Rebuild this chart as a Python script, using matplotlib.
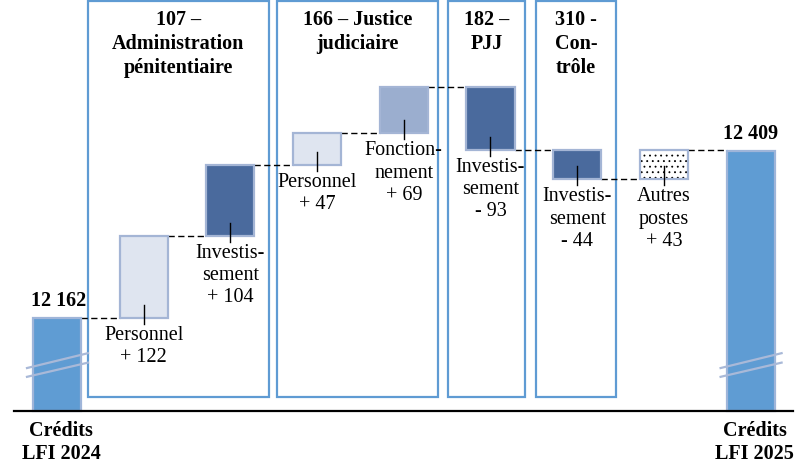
import matplotlib
matplotlib.use("Agg")
import matplotlib.pyplot as plt
from matplotlib.patches import Rectangle

# ---------------- data ----------------
start_label = "Crédits\nLFI 2024"
end_label = "Crédits\nLFI 2025"
start_value = 12162
end_value = 12409
step_names = ["Personnel", "Investis-\nsement", "Personnel", "Fonction-\nnement",
              "Investis-\nsement", "Investis-\nsement", "Autres\npostes"]
step_values = [122, 104, 47, 69, -93, -44, 43]
step_kinds = ["personnel", "invest", "personnel", "fonct", "invest", "invest", "autres"]
group_titles = ["107 –\nAdministration\npénitentiaire", "166 – Justice\njudiciaire",
                "182 –\nPJJ", "310 -\nCon-\ntrôle"]

# ---------------- style ----------------
plt.rcParams["hatch.linewidth"] = 0.6
FONT = "Liberation Serif"
FS = 14.5
fills = {"personnel": "#dfe5f0", "invest": "#4a6a9d", "fonct": "#9baecf", "autres": "#ffffff"}
edge_light = "#a4b5d5"
total_fill = "#5f9cd3"
total_edge = "#9fb5d9"
group_edge = "#5f9bd3"

fig = plt.figure(figsize=(8.07, 4.77), dpi=100)
ax = fig.add_axes([0, 0, 1, 1])
ax.axis("off")
YMIN, YMAX = 11928.3, 12633.9
ax.set_xlim(-0.6574, 8.6505)
ax.set_ylim(YMIN, YMAX)
PX = (YMAX - YMIN) / 477.0          # data units per pixel (y)
PXX = 1 / 86.7                      # data units per pixel (x)
base = 12024.4
w = 0.554

n = len(step_values)
xs_total = [0, n + 1]

# group boxes (layout)
group_left = [1 - 0.643, 3 - 0.463, 5 - 0.49, 6 - 0.475]
group_right = [2 + 0.445, 4 + 0.394, 5 + 0.398, 6 + 0.448]
gb, gt = 12045.1, 12631.0
for l, r, t in zip(group_left, group_right, group_titles):
    ax.add_patch(Rectangle((l, gb), r - l, gt - gb, fill=False, ec=group_edge, lw=1.6, zorder=1))
    ax.text((l + r) / 2, YMAX - 10 * PX, t, ha="center", va="top", fontsize=FS,
            fontweight="bold", family=FONT, linespacing=1.28, zorder=5)

# start total bar
ax.add_patch(Rectangle((0 - w / 2, base), w, start_value - base, fc=total_fill,
                       ec=total_edge, lw=1.6, zorder=3))
ax.text(2 * PXX, start_value + 8 * PX, f"{start_value // 1000} {start_value % 1000:03d}",
        ha="center", va="bottom", fontsize=FS, fontweight="bold", family=FONT)

level = start_value
for i, (name, v, kind) in enumerate(zip(step_names, step_values, step_kinds), start=1):
    new = level + v
    lo, hi = min(level, new), max(level, new)
    # connector
    ax.plot([i - 1 + w / 2, i - w / 2], [level, level], color="black", lw=1.0,
            ls=(0, (4.5, 2.5)), zorder=2)
    if kind == "autres":
        ax.add_patch(Rectangle((i - w / 2, lo), w, hi - lo, fc="white", ec="black",
                               lw=0, hatch="...", zorder=3))
        ax.add_patch(Rectangle((i - w / 2, lo), w, hi - lo, fill=False, ec=edge_light,
                               lw=1.6, zorder=4))
    else:
        ax.add_patch(Rectangle((i - w / 2, lo), w, hi - lo, fc=fills[kind], ec=edge_light,
                               lw=1.6, zorder=3))
    # leader tick
    ax.plot([i, i], [lo + 13 * PX, lo - 6 * PX], color="black", lw=1.0, zorder=5)
    sign = "+" if v > 0 else "-"
    ax.text(i, lo - 7 * PX, f"{name}\n{sign} {abs(v)}", ha="center", va="top",
            fontsize=FS, family=FONT, linespacing=1.22, zorder=5)
    level = new

# last connector and end bar
ax.plot([n + w / 2, n + 1 - w / 2], [level, level], color="black", lw=1.0,
        ls=(0, (4.5, 2.5)), zorder=2)
ax.add_patch(Rectangle((n + 1 - w / 2, base), w, end_value - base, fc=total_fill,
                       ec=total_edge, lw=1.6, zorder=3))
ax.text(n + 1, end_value + 8 * PX, f"{end_value // 1000} {end_value % 1000:03d}",
        ha="center", va="bottom", fontsize=FS, fontweight="bold", family=FONT)

# axis break marks
for c in xs_total:
    for y0, y1 in [(12075, 12096), (12088, 12110)]:
        ax.plot([c - 30 * PXX, c + 31 * PXX], [y0, y1], color="#a9b9d8", lw=1.6, zorder=4)

# baseline
ax.plot([-43 * PXX, 736 * PXX], [base, base], color="black", lw=1.6, zorder=6)

# bottom labels
for c, lab in zip(xs_total, [start_label, end_label]):
    ax.text(c + 4 * PXX, base - 9 * PX, lab, ha="center", va="top", fontsize=FS,
            fontweight="bold", family=FONT, linespacing=1.2)

fig.savefig("out.png", dpi=100)
